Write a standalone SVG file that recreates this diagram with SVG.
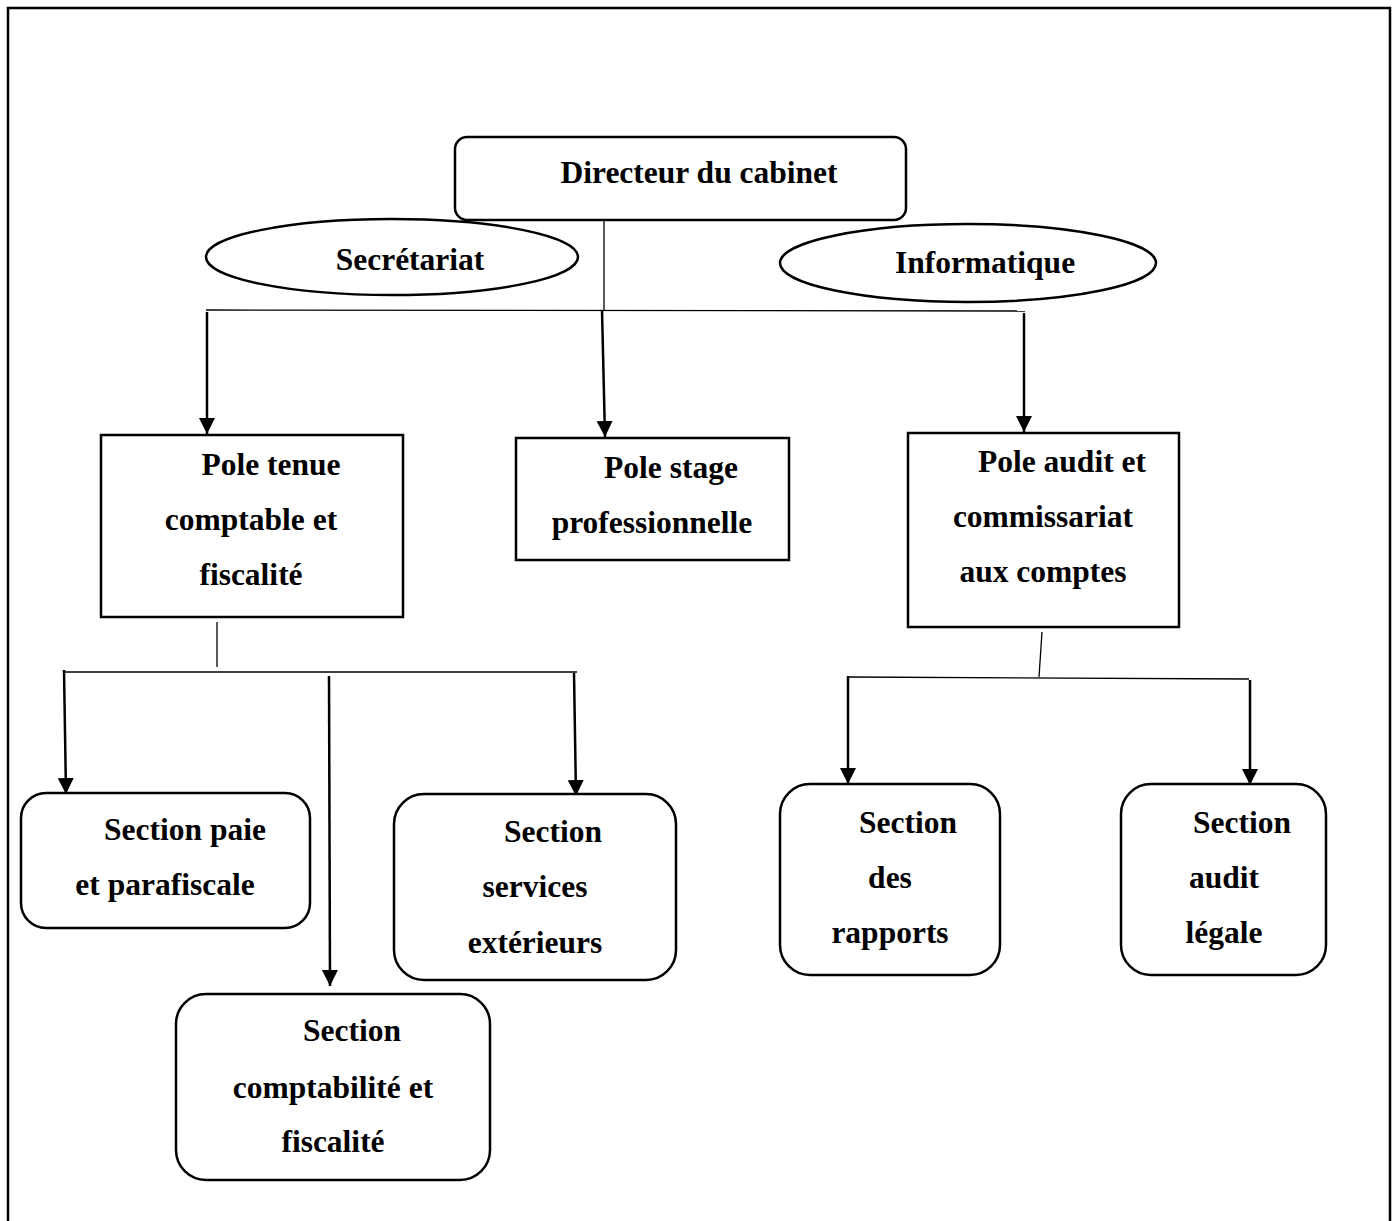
<svg xmlns="http://www.w3.org/2000/svg" width="1397" height="1221" viewBox="0 0 1397 1221">
<style>
.t{font-family:"Liberation Serif","Times New Roman",serif;font-weight:bold;font-size:31.5px;fill:#000;text-anchor:middle}
.b{fill:#fff;stroke:#000;stroke-width:2.5}
.c{stroke:#000;stroke-width:1.3;fill:none}
.a{stroke:#000;stroke-width:2.5;fill:none}
</style>
<defs>
<marker id="ah" markerUnits="userSpaceOnUse" markerWidth="17" markerHeight="17" refX="16" refY="8" orient="auto">
<path d="M0,0 L16,8 L0,16 Z" fill="#000"/>
</marker>
</defs>
<rect width="1397" height="1221" fill="#fff"/>
<path d="M8,1225 V8 H1390 V1225" fill="none" stroke="#000" stroke-width="2.5"/>

<g id="secretariat">
<ellipse class="b" cx="392" cy="257" rx="186" ry="38"/>
<text class="t" x="410" y="270">Secrétariat</text>
</g>
<g id="informatique">
<ellipse class="b" cx="968" cy="263" rx="188" ry="39"/>
<text class="t" x="985" y="273">Informatique</text>
</g>

<g id="connectors">
<line class="c" x1="604" y1="220" x2="604" y2="310"/>
<line class="c" x1="206" y1="310" x2="1025" y2="311"/>
<line class="a" x1="207" y1="312" x2="207" y2="434" marker-end="url(#ah)"/>
<line class="a" x1="602" y1="310" x2="605" y2="437" marker-end="url(#ah)"/>
<line class="a" x1="1024" y1="313" x2="1024" y2="432" marker-end="url(#ah)"/>
<line class="c" x1="217" y1="622" x2="217" y2="667"/>
<line class="c" x1="64" y1="672" x2="577" y2="672"/>
<line class="a" x1="64" y1="670" x2="66" y2="794" marker-end="url(#ah)"/>
<line class="a" x1="329" y1="676" x2="330" y2="986" marker-end="url(#ah)"/>
<line class="a" x1="574" y1="673" x2="576" y2="796" marker-end="url(#ah)"/>
<line class="c" x1="1042" y1="632" x2="1039" y2="677"/>
<line class="c" x1="848" y1="677" x2="1249" y2="679"/>
<line class="a" x1="848" y1="676" x2="848" y2="784" marker-end="url(#ah)"/>
<line class="a" x1="1250" y1="680" x2="1250" y2="785" marker-end="url(#ah)"/>
</g>

<g id="directeur">
<rect class="b" x="455" y="137" width="451" height="83" rx="12"/>
<text class="t" x="699" y="183">Directeur du cabinet</text>
</g>
<g id="pole-tenue">
<rect class="b" x="101" y="435" width="302" height="182"/>
<text class="t" x="271" y="475">Pole tenue</text>
<text class="t" x="251" y="530">comptable et</text>
<text class="t" x="251" y="585">fiscalité</text>
</g>
<g id="pole-stage">
<rect class="b" x="516" y="438" width="273" height="122"/>
<text class="t" x="671" y="478">Pole stage</text>
<text class="t" x="652" y="533">professionnelle</text>
</g>
<g id="pole-audit">
<rect class="b" x="908" y="433" width="271" height="194"/>
<text class="t" x="1062" y="472">Pole audit et</text>
<text class="t" x="1043" y="527">commissariat</text>
<text class="t" x="1043" y="582">aux comptes</text>
</g>
<g id="section-paie">
<rect class="b" x="21" y="793" width="289" height="135" rx="25"/>
<text class="t" x="185" y="840">Section paie</text>
<text class="t" x="165" y="895">et parafiscale</text>
</g>
<g id="section-services">
<rect class="b" x="394" y="794" width="282" height="186" rx="30"/>
<text class="t" x="553" y="842">Section</text>
<text class="t" x="535" y="897">services</text>
<text class="t" x="535" y="953">extérieurs</text>
</g>
<g id="section-comptabilite">
<rect class="b" x="176" y="994" width="314" height="186" rx="30"/>
<text class="t" x="352" y="1041">Section</text>
<text class="t" x="333" y="1098">comptabilité et</text>
<text class="t" x="333" y="1152">fiscalité</text>
</g>
<g id="section-rapports">
<rect class="b" x="780" y="784" width="220" height="191" rx="30"/>
<text class="t" x="908" y="833">Section</text>
<text class="t" x="890" y="888">des</text>
<text class="t" x="890" y="943">rapports</text>
</g>
<g id="section-audit">
<rect class="b" x="1121" y="784" width="205" height="191" rx="30"/>
<text class="t" x="1242" y="833">Section</text>
<text class="t" x="1224" y="888">audit</text>
<text class="t" x="1224" y="943">légale</text>
</g>
</svg>
